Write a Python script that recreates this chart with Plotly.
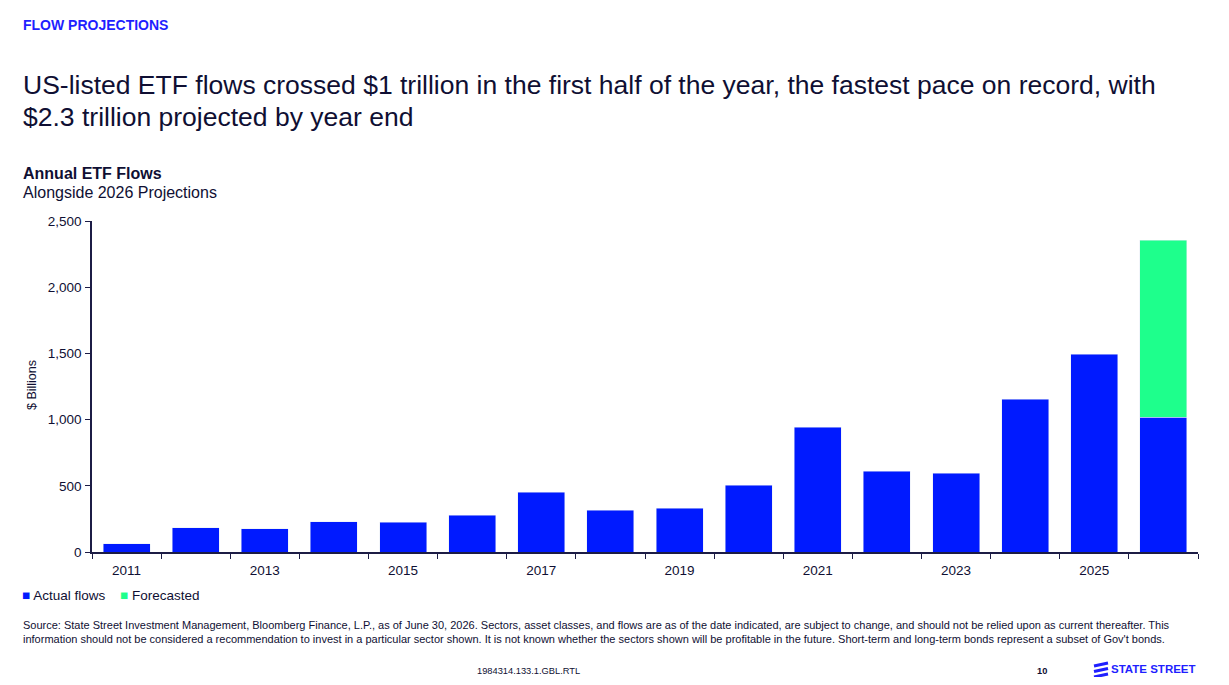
import plotly.graph_objects as go

# annual US-listed ETF flows, $ billions (2026 split into actual H1 + forecast)
years = list(range(2011, 2027))
actual_flows = [63, 183, 176, 229, 226, 279, 452, 317, 332, 505, 943, 611, 596, 1154, 1493, 1018]
forecasted = [None] * 15 + [1335]
label_years = years[::2]
y_ticks = [0, 500, 1000, 1500, 2000, 2500]

BLUE = "#001aff"
GREEN = "#1eff8c"
INK = "#0f0f33"
AXIS = "#1c1c45"
FONT = "Arial, Liberation Sans, sans-serif"

# page is drawn with the default 8px body margin, so work in figure pixels
PAD = 8
W, H = 1229 - 2 * PAD, 685 - 2 * PAD
L, R, T, B = 92 - PAD, 1198 - PAD, 221 - PAD, 552 - PAD


def px(x, y):
    # page pixel -> paper coords
    x, y = x - PAD, y - PAD
    return (x - L) / (R - L), (B - y) / (B - T)


def note(x, y, text, size, color=INK, anchor="left", bold=False, angle=0):
    if anchor == "left":
        x -= 2  # annotation box padding
    xp, yp = px(x, y)
    if bold:
        text = "<b>" + text + "</b>"
    return dict(x=xp, y=yp, xref="paper", yref="paper", text=text, showarrow=False,
                xanchor=anchor, yanchor="middle", textangle=angle,
                font=dict(family=FONT, size=size, color=color))


fig = go.Figure()
fig.add_trace(go.Bar(x=years, y=actual_flows, name="Actual flows", marker_color=BLUE,
                     showlegend=False))
fig.add_trace(go.Bar(x=years, y=forecasted, name="Forecasted", marker_color=GREEN,
                     showlegend=False))

annotations = [
    note(23, 25, "FLOW PROJECTIONS", 14, color="#1f1fff", bold=True),
    note(23, 85, "US-listed ETF flows crossed $1 trillion in the first half of the year, the fastest pace on record, with", 26.5),
    note(23, 117, "$2.3 trillion projected by year end", 26.5),
    note(23, 173, "Annual ETF Flows", 16, bold=True),
    note(23, 192, "Alongside 2026 Projections", 16),
    note(32, 385, "$ Billions", 12.5, anchor="center", angle=-90),
    note(22, 595, "<span style='color:%s'>■</span> Actual flows" % BLUE, 13.5),
    note(120, 595, "<span style='color:%s'>■</span> Forecasted" % GREEN, 13.5),
    note(23, 625, "Source: State Street Investment Management, Bloomberg Finance, L.P., as of June 30, 2026. Sectors, asset classes, and flows are as of the date indicated, are subject to change, and should not be relied upon as current thereafter. This", 11),
    note(23, 639, "information should not be considered a recommendation to invest in a particular sector shown. It is not known whether the sectors shown will be profitable in the future. Short-term and long-term bonds represent a subset of Gov't bonds.", 11),
    note(477, 671, "1984314.133.1.GBL.RTL", 9.3),
    note(1037, 671, "10", 9.3, bold=True),
    note(1111, 669, "STATE STREET", 11.5, color="#1f1fff", bold=True),
]

# logo mark: three slanted stripes
shapes = []
for yy in (664.5, 670, 675.5):
    x0, y0 = px(1094, yy + 1.5)
    x1, y1 = px(1108, yy - 1.5)
    shapes.append(dict(type="line", xref="paper", yref="paper", x0=x0, y0=y0, x1=x1, y1=y1,
                       line=dict(color="#1f1fff", width=3)))

fig.update_layout(
    width=W, height=H,
    margin=dict(l=L, r=W - R, t=T, b=H - B),
    barmode="stack", bargap=0.32,
    plot_bgcolor="white", paper_bgcolor="white",
    font=dict(family=FONT, size=13, color=INK),
    annotations=annotations, shapes=shapes,
)
fig.update_xaxes(
    range=[years[0] - 0.5, years[-1] + 0.5],
    tickvals=label_years, ticktext=[str(y) for y in label_years],
    ticks="outside", ticklen=5, tickcolor="rgba(0,0,0,0)",
    minor=dict(ticks="outside", ticklen=5, tick0=years[0] - 0.5, dtick=1, tickcolor=AXIS, showgrid=False),
    showline=True, linecolor=AXIS, linewidth=1.5, showgrid=False, zeroline=False,
    tickfont=dict(size=13.5, color=INK),
)
fig.update_yaxes(
    range=[0, 2500], tickvals=y_ticks, tickformat=",",
    ticks="outside", ticklen=5, tickcolor=AXIS, ticklabelstandoff=1,
    showline=True, linecolor=AXIS, linewidth=1.5, showgrid=False, zeroline=False,
    tickfont=dict(size=13.5, color=INK),
)

fig.write_html("out.html")
